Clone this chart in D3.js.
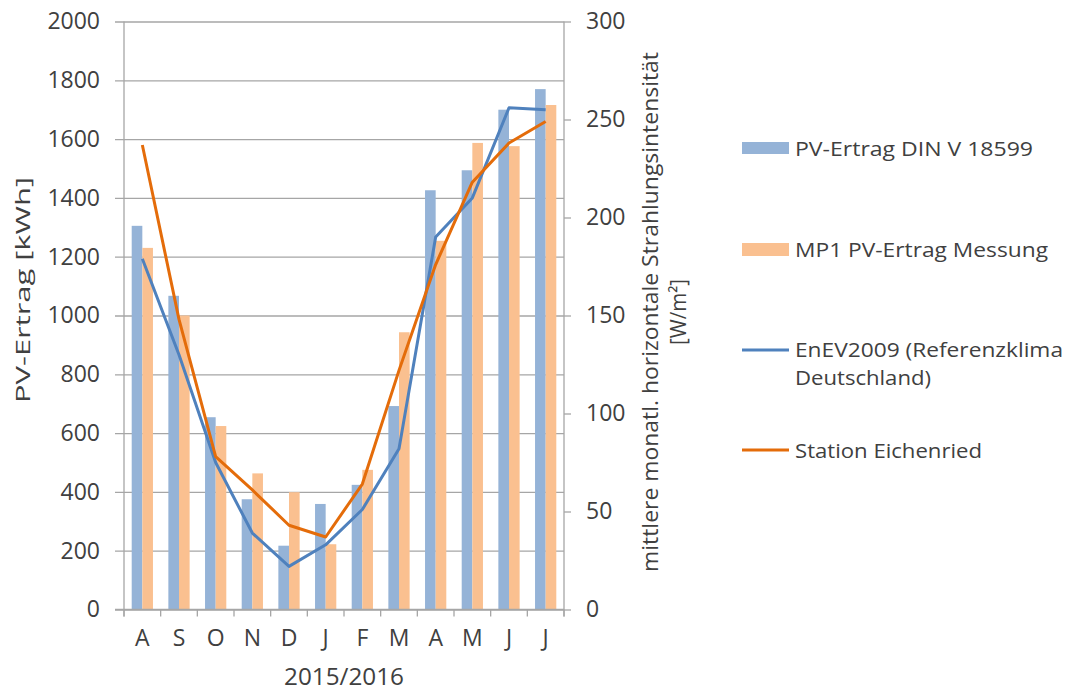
<!DOCTYPE html>
<html>
<head>
<meta charset="utf-8">
<script src="https://cdn.jsdelivr.net/npm/d3@7"></script>
<style>
  body { margin: 0; background: #fff; }
  svg text { font-family: 'Open Sans', sans-serif; fill: #404040; }
</style>
</head>
<body>
<script>
// Data
const months = ['A', 'S', 'O', 'N', 'D', 'J', 'F', 'M', 'A', 'M', 'J', 'J'];
const pvDin = [1305, 1067, 654, 375, 217, 359, 424, 692, 1426, 1494, 1700, 1770];
const pvMessung = [1230, 1000, 624, 463, 399, 222, 475, 943, 1254, 1587, 1576, 1716];
const enev2009 = [179, 130, 75, 39, 22, 33, 51, 82, 190, 210, 256, 255];
const eichenried = [237, 148, 78, 61, 43, 37, 64, 122, 176, 218, 238, 249];
const leftTicks = [0, 200, 400, 600, 800, 1000, 1200, 1400, 1600, 1800, 2000];
const rightTicks = [0, 50, 100, 150, 200, 250, 300];

const w = 1082;
const h = 691;
const plot = { left: 124, right: 564, top: 21.5, bottom: 609.5 };
const grey = '#a6a6a6';

const svg = d3.select('body')
  .append('svg')
  .attr('width', w)
  .attr('height', h);

// Scales
const keys = months.map((m, i) => i);
const xScale = d3.scaleBand()
  .domain(keys)
  .range([plot.left, plot.right])
  .paddingInner(0.42)
  .paddingOuter(0.21);

const xSub = d3.scaleBand()
  .domain(['din', 'mess'])
  .range([0, xScale.bandwidth()]);

const yLeft = d3.scaleLinear().domain([0, 2000]).range([plot.bottom, plot.top]);
const yRight = d3.scaleLinear().domain([0, 300]).range([plot.bottom, plot.top]);

// Grid lines + left axis
const leftAxis = svg.append('g')
  .attr('transform', `translate(${plot.left}, 0)`)
  .call(d3.axisLeft(yLeft)
    .tickValues(leftTicks)
    .tickFormat(d3.format('d'))
    .tickSize(-(plot.right - plot.left))
    .tickPadding(24));
leftAxis.select('.domain').remove();
leftAxis.selectAll('.tick line')
  .attr('x1', -9)
  .attr('stroke', grey)
  .attr('stroke-width', 1.3);
leftAxis.selectAll('.tick text')
  .style('font-size', '23px');

// Bars
const groups = svg.selectAll('.month')
  .data(keys)
  .enter()
  .append('g')
  .attr('transform', d => `translate(${xScale(d)}, 0)`);

groups.append('rect')
  .attr('x', xSub('din'))
  .attr('y', d => yLeft(pvDin[d]))
  .attr('width', xSub.bandwidth())
  .attr('height', d => yLeft(0) - yLeft(pvDin[d]))
  .attr('fill', '#95b3d7');

groups.append('rect')
  .attr('x', xSub('mess'))
  .attr('y', d => yLeft(pvMessung[d]))
  .attr('width', xSub.bandwidth())
  .attr('height', d => yLeft(0) - yLeft(pvMessung[d]))
  .attr('fill', '#fac090');

// Lines
const cx = d => xScale(d) + xScale.bandwidth() / 2;
const lineEnev = d3.line().x(cx).y(d => yRight(enev2009[d]));
const lineEich = d3.line().x(cx).y(d => yRight(eichenried[d]));

svg.append('path')
  .attr('d', lineEnev(keys))
  .attr('fill', 'none')
  .attr('stroke', '#4f81bd')
  .attr('stroke-width', 3)
  .attr('stroke-linejoin', 'round');

svg.append('path')
  .attr('d', lineEich(keys))
  .attr('fill', 'none')
  .attr('stroke', '#e46c0a')
  .attr('stroke-width', 3)
  .attr('stroke-linejoin', 'round');

// Left axis line
svg.append('line')
  .attr('x1', plot.left).attr('x2', plot.left)
  .attr('y1', plot.top).attr('y2', plot.bottom + 7)
  .attr('stroke', grey).attr('stroke-width', 1.3);

// Right axis
const rightAxis = svg.append('g')
  .attr('transform', `translate(${plot.right}, 0)`)
  .call(d3.axisRight(yRight).tickValues(rightTicks).tickSize(7).tickPadding(15));
rightAxis.select('.domain')
  .attr('d', `M0,${plot.top}V${plot.bottom + 7}`)
  .attr('stroke', grey)
  .attr('stroke-width', 1.3);
rightAxis.selectAll('.tick line')
  .attr('stroke', grey)
  .attr('stroke-width', 1.3);
rightAxis.selectAll('.tick text')
  .style('font-size', '23px');

// X axis: baseline, tick marks between categories, labels
const step = xScale.step();
const boundaries = keys.map(d => xScale(d) - step * xScale.paddingInner() / 2)
  .concat([plot.right]);

svg.append('line')
  .attr('x1', plot.left - 9).attr('x2', plot.right)
  .attr('y1', plot.bottom).attr('y2', plot.bottom)
  .attr('stroke', grey).attr('stroke-width', 1.3);

svg.selectAll('.xtick')
  .data(boundaries)
  .enter()
  .append('line')
  .attr('x1', d => d).attr('x2', d => d)
  .attr('y1', plot.bottom).attr('y2', plot.bottom + 7)
  .attr('stroke', grey).attr('stroke-width', 1.3);

svg.selectAll('.xlabel')
  .data(keys)
  .enter()
  .append('text')
  .attr('x', cx)
  .attr('y', 646)
  .attr('text-anchor', 'middle')
  .style('font-size', '23px')
  .text(d => months[d]);

svg.append('text')
  .attr('x', (plot.left + plot.right) / 2)
  .attr('y', 685)
  .attr('text-anchor', 'middle')
  .style('font-size', '23px')
  .attr('textLength', 120)
  .attr('lengthAdjust', 'spacingAndGlyphs')
  .text('2015/2016');

// Axis titles
svg.append('text')
  .attr('transform', 'translate(30, 290) rotate(-90)')
  .attr('text-anchor', 'middle')
  .style('font-size', '20.5px')
  .attr('textLength', 226)
  .attr('lengthAdjust', 'spacingAndGlyphs')
  .text('PV-Ertrag [kWh]');

const rightTitle = svg.append('text')
  .attr('transform', 'translate(658, 312) rotate(-90)')
  .attr('text-anchor', 'middle')
  .style('font-size', '21px');
rightTitle.append('tspan')
  .attr('x', 0)
  .attr('textLength', 520)
  .attr('lengthAdjust', 'spacingAndGlyphs')
  .text('mittlere monatl. horizontale Strahlungsintensität');
rightTitle.append('tspan')
  .attr('x', 0)
  .attr('dy', 28)
  .attr('textLength', 66)
  .attr('lengthAdjust', 'spacingAndGlyphs')
  .text('[W/m²]');

// Legend
const legend = svg.append('g');
const legendFont = '20.5px';

const legendText = (y, label, len) => legend.append('text')
  .attr('x', 795).attr('y', y)
  .style('font-size', legendFont)
  .attr('textLength', len)
  .attr('lengthAdjust', 'spacingAndGlyphs')
  .text(label);

legend.append('rect')
  .attr('x', 742).attr('y', 142).attr('width', 47).attr('height', 12)
  .attr('fill', '#95b3d7');
legendText(156, 'PV-Ertrag DIN V 18599', 238);

legend.append('rect')
  .attr('x', 742).attr('y', 243).attr('width', 47).attr('height', 13)
  .attr('fill', '#fac090');
legendText(257, 'MP1 PV-Ertrag Messung', 253);

legend.append('line')
  .attr('x1', 742).attr('x2', 789).attr('y1', 350).attr('y2', 350)
  .attr('stroke', '#4f81bd').attr('stroke-width', 3);
legendText(357, 'EnEV2009 (Referenzklima', 268);
legendText(385, 'Deutschland)', 136);

legend.append('line')
  .attr('x1', 742).attr('x2', 789).attr('y1', 450).attr('y2', 450)
  .attr('stroke', '#e46c0a').attr('stroke-width', 3);
legendText(458, 'Station Eichenried', 187);
</script>
</body>
</html>
